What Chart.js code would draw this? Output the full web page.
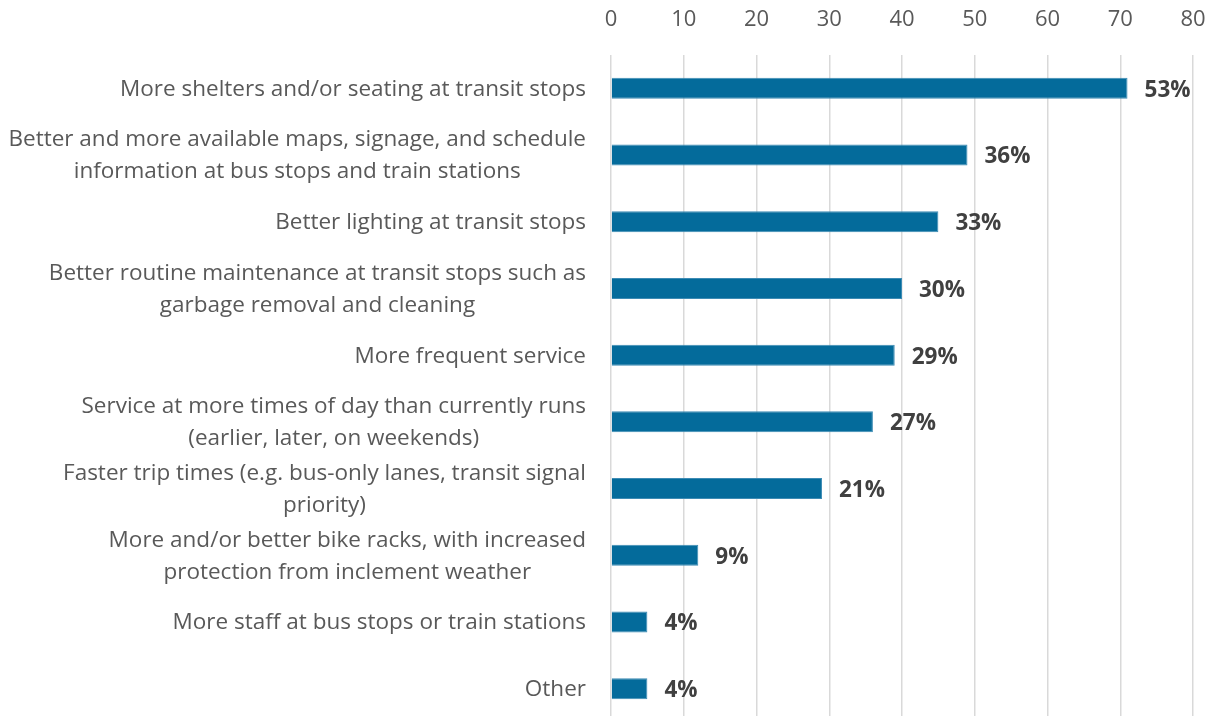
<!DOCTYPE html>
<html>
<head>
<meta charset="utf-8">
<script src="https://cdn.jsdelivr.net/npm/chart.js@4/dist/chart.umd.min.js"></script>
<style>
  html, body { margin: 0; padding: 0; background: #fff; overflow: hidden; }
  canvas { display: block; }
</style>
</head>
<body>
<canvas id="improvements" width="1214" height="722"></canvas>
<script>
// survey answers, one entry per bar (multi-line labels as arrays)
const categories = [
  ['More shelters and/or seating at transit stops'],
  ['Better and more available maps, signage, and schedule', 'information at bus stops and train stations'],
  ['Better lighting at transit stops'],
  ['Better routine maintenance at transit stops such as', 'garbage removal and cleaning'],
  ['More frequent service'],
  ['Service at more times of day than currently runs', '(earlier, later, on weekends)'],
  ['Faster trip times (e.g. bus-only lanes, transit signal', 'priority)'],
  ['More and/or better bike racks, with increased', 'protection from inclement weather'],
  ['More staff at bus stops or train stations'],
  ['Other']
];
// number of respondents choosing each option
const responses = [71, 49, 45, 40, 39, 36, 29, 12, 5, 5];
// share of respondents, printed next to each bar
const shares = ['53%', '36%', '33%', '30%', '29%', '27%', '21%', '9%', '4%', '4%'];
const xTicks = { min: 0, max: 80, step: 10 };

const FONT = '"Open Sans", "Noto Sans", sans-serif';

// category text: each label right-aligned to the axis, its lines centred on each other
const categoryLabels = {
  id: 'categoryLabels',
  afterDraw(chart) {
    const { ctx } = chart;
    const y = chart.scales.y;
    const right = chart.chartArea.left - 25;
    const lh = 32;
    ctx.save();
    ctx.font = '22.5px ' + FONT;
    ctx.fillStyle = '#595959';
    ctx.textAlign = 'center';
    ctx.textBaseline = 'middle';
    categories.forEach((lines, i) => {
      const widest = Math.max(...lines.map(l => ctx.measureText(l).width));
      const cx = right - widest / 2;
      const cy = y.getPixelForTick(i) + 1;
      lines.forEach((line, j) => {
        ctx.fillText(line, cx, cy + (j - (lines.length - 1) / 2) * lh);
      });
    });
    ctx.restore();
  }
};

// percentage text just past the end of each bar
const shareLabels = {
  id: 'shareLabels',
  afterDatasetsDraw(chart) {
    const { ctx } = chart;
    const meta = chart.getDatasetMeta(0);
    ctx.save();
    ctx.font = 'bold 22.5px ' + FONT;
    ctx.fillStyle = '#404040';
    ctx.textAlign = 'left';
    ctx.textBaseline = 'middle';
    meta.data.forEach((bar, i) => {
      ctx.fillText(shares[i], bar.x + 17, bar.y + 2);
    });
    ctx.restore();
  }
};

new Chart(document.getElementById('improvements'), {
  type: 'bar',
  data: {
    labels: categories,
    datasets: [{
      data: responses,
      backgroundColor: '#046B9B',
      borderColor: '#3d8bb4',
      borderWidth: 1,
      borderSkipped: 'start',
      barPercentage: 0.315,
      categoryPercentage: 1
    }]
  },
  options: {
    indexAxis: 'y',
    responsive: false,
    animation: false,
    layout: { padding: { left: 0, right: 21, top: 0, bottom: 0 } },
    plugins: {
      legend: { display: false },
      tooltip: { enabled: false }
    },
    scales: {
      x: {
        position: 'top',
        min: xTicks.min,
        max: xTicks.max,
        border: { display: false },
        grid: { color: '#d9d9d9', lineWidth: 1.5, drawTicks: false },
        ticks: {
          stepSize: xTicks.step,
          padding: 22,
          color: '#595959',
          font: { family: FONT, size: 22, lineHeight: 1.2 }
        },
        afterFit(scale) {
          scale.height = 55;
          scale.paddingLeft = 0;
          scale.paddingRight = 0;
        }
      },
      y: {
        border: { display: false },
        grid: { display: false },
        ticks: { display: false },
        afterFit(scale) {
          scale.width = 611;
        }
      }
    }
  },
  plugins: [categoryLabels, shareLabels]
});
</script>
</body>
</html>
